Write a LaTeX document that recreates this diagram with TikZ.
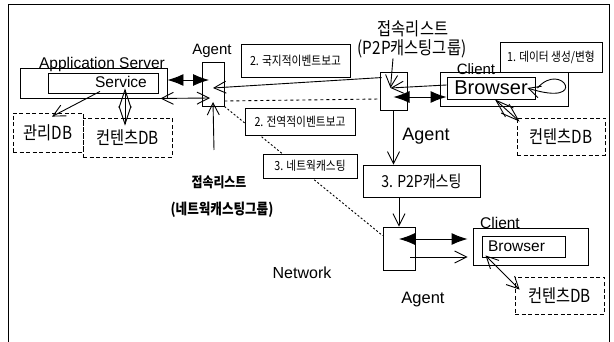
\documentclass[tikz,border=0pt]{standalone}
\usepackage{fontspec}
\setmainfont{Liberation Sans}
\newfontfamily\kr[FakeStretch=0.85]{Noto Sans CJK KR}
\usetikzlibrary{arrows.meta}

\begin{document}
\begin{tikzpicture}[x=1pt, y=-1pt,
    box/.style={draw, line width=0.9pt, inner sep=0pt},
    dbbox/.style={box, dash pattern=on 4pt off 2.5pt},
    lbl/.style={box, fill=white, font=\kr\fontsize{12.6}{14}\selectfont},
    txt/.style={inner sep=0pt, font=\fontsize{15.5}{17}\selectfont},
    krtxt/.style={inner sep=0pt, font=\kr\fontsize{18}{20}\selectfont},
    conn/.style={line width=0.9pt},
    barb/.style={conn, -{Straight Barb[length=12pt,width=12pt]}},
    barbs/.style={conn, {Straight Barb[length=12pt,width=12pt]}-{Straight Barb[length=12pt,width=12pt]}},
    diamondtips/.style={conn, {Straight Barb[length=18pt,width=12pt]}-{Straight Barb[length=18pt,width=12pt]}},
    solidtips/.style={conn, {Latex[length=16pt,width=12pt]}-{Latex[length=16pt,width=12pt]}}]
    \useasboundingbox (0,0) rectangle (614,342);

    % Frame
    \draw[line width=1pt] (8,342) -- (8,5) -- (609,5) -- (609,342);

    % Application server
    \node[box, minimum width=147pt, minimum height=30pt] (appsrv) at (93.5,83) {};
    \node[box, minimum width=110pt, minimum height=20pt] (service) at (103,83) {};
    \node[txt] (appsrvtxt) at (102,64) {Application Server};
    \node[txt] (servicetxt) at (121,82) {Service};
    \node[dbbox, krtxt, minimum width=70pt, minimum height=39pt] (mgmtdb) at (48,132.5) {관리DB};
    \node[dbbox, krtxt, minimum width=89pt, minimum height=39pt] (contdbL) at (127.5,137.5) {컨텐츠DB};

    % Agents
    \node[box, minimum width=22pt, minimum height=44pt] (agentL) at (213,84) {};
    \node[txt, font=\fontsize{15}{17}\selectfont] (agentLtxt) at (212,51) {Agent};
    \node[box, minimum width=27pt, minimum height=38pt] (agentP) at (393.5,91) {};
    \node[txt, font=\fontsize{18}{20}\selectfont] (agentPtxt) at (426,136) {Agent};
    \node[box, minimum width=32pt, minimum height=43pt] (agentB) at (399,248.5) {};
    \node[txt, font=\fontsize{16.5}{18}\selectfont] (agentBtxt) at (423,300) {Agent};
    \coordinate (burstL) at (214,150);

    % Clients
    \node[box, minimum width=128pt, minimum height=34pt] (clientT) at (504,89) {};
    \node[box, txt, font=\fontsize{20}{22}\selectfont, minimum width=88pt, minimum height=22pt] (browserT) at (491,88) {Browser};
    \node[txt, font=\fontsize{15}{17}\selectfont] (clientTtxt) at (476,69) {Client};
    \node[box, minimum width=115pt, minimum height=37pt] (clientB) at (530.5,246.5) {};
    \node[box, minimum width=83pt, minimum height=21pt] (browserB) at (523.5,246.5) {};
    \node[txt] (browserBtxt) at (516.5,246) {Browser};
    \node[txt] (clientBtxt) at (500,223) {Client};
    \node[dbbox, krtxt, minimum width=88pt, minimum height=37pt] (contdbT) at (561,136.5) {컨텐츠DB};
    \node[dbbox, krtxt, minimum width=89pt, minimum height=37pt] (contdbB) at (559.5,295.5) {컨텐츠DB};

    % Connection lists
    \node[krtxt, font=\kr\bfseries\fontsize{14}{16}\selectfont] (netlistA) at (219,182) {접속리스트};
    \node[krtxt, font=\kr\bfseries\fontsize{14.8}{16}\selectfont] (netlistB) at (222,210) {(네트웍캐스팅그룹)};
    \node[krtxt] (p2plistA) at (413,29) {접속리스트};
    \node[krtxt] (p2plistB) at (412,49) {(P2P캐스팅그룹)};
    \node[txt, font=\fontsize{16}{18}\selectfont] (network) at (302,273) {Network};

    % Links between the agents
    \draw[barb] ([shift={(2pt,-6pt)}]agentP.north west) -- ([yshift=-4pt]agentL.center);
    \draw[conn, dashed] ([yshift=-17pt]agentL.east) -- ([yshift=-8pt]agentP.west);
    \draw[conn, dash pattern=on 2pt off 2pt] (agentL.south east) -- ([yshift=-9pt]agentB.north west);

    % Step labels
    \node[lbl, minimum width=109pt, minimum height=33pt] (localrep) at (295.5,60.5) {2. 국지적이벤트보고};
    \node[lbl, minimum width=110pt, minimum height=27pt] (globalrep) at (300,121.5) {2. 전역적이벤트보고};
    \node[lbl, minimum width=94pt, minimum height=24pt] (netcast) at (310,166) {3. 네트웍캐스팅};
    \node[lbl, font=\kr\fontsize{16.5}{18}\selectfont, minimum width=117pt, minimum height=32pt] (p2pcast) at (421.5,181) {3. P2P캐스팅};
    \node[lbl, minimum width=102pt, minimum height=30pt] (datagen) at (551,57) {1. 데이터 생성/변형};

    % Server side arrows
    \draw[solidtips] ([yshift=3pt]appsrv.east) -- ([shift={(-4pt,4pt)}]agentL.center);
    \draw[barbs] ([xshift=-7pt]appsrv.south east) -- ([shift={(-3pt,-14pt)}]agentL.center);
    \draw[barb] (burstL) -- ([yshift=-18pt]agentL.center);
    \draw[barb] ([shift={(-3pt,2pt)}]service.south) -- ([shift={(4pt,-4pt)}]mgmtdb.north);
    \draw[diamondtips] ([shift={(22pt,5pt)}]service.south) -- ([shift={(-2.5pt,-8pt)}]contdbL.north);

    % P2P side arrows
    \draw[barb] ([xshift=-19pt]p2plistB.south) -- ([shift={(-3pt,3pt)}]agentP.center);
    \draw[barb] ([yshift=3pt]browserT.west) -- ([shift={(-3pt,3pt)}]agentP.center);
    \draw[solidtips] ([yshift=-6pt]agentP.center) -- ([yshift=-9pt]browserT.west);
    \draw[barb] ([xshift=2pt]browserT.east) .. controls (562,60) and (590,108) .. ([xshift=-8pt]browserT.east);
    \draw[diamondtips] ([xshift=4pt]browserT.south) -- ([shift={(3pt,-4pt)}]contdbT.north west);
    \draw[barb] (agentP.south) -- (agentP.south |- p2pcast.north);
    \draw[barb] (agentB.north |- p2pcast.south) -- (agentB.north);

    % Network side arrows
    \draw[solidtips] ([yshift=9.5pt]agentB.center) -- ([shift={(-5pt,7.5pt)}]clientB.west);
    \draw[barb] ([shift={(11pt,-8.5pt)}]agentB.center) -- ([shift={(-5pt,-10.5pt)}]clientB.west);
    \draw[barbs] ([shift={(4pt,2pt)}]browserB.south west) -- ([shift={(5pt,-13pt)}]contdbB.north west);
\end{tikzpicture}
\end{document}
